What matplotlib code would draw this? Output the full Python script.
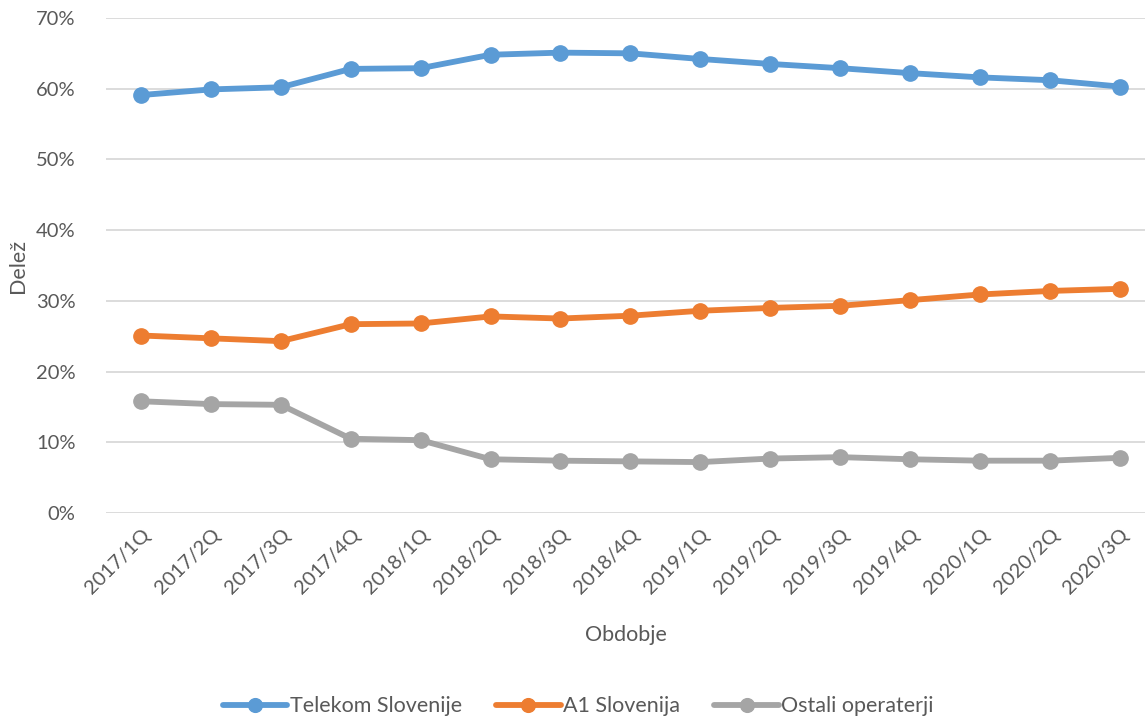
import matplotlib
matplotlib.use('Agg')
import matplotlib.pyplot as plt
import matplotlib.ticker as mticker


periods = ['2017/1Q', '2017/2Q', '2017/3Q', '2017/4Q',
           '2018/1Q', '2018/2Q', '2018/3Q', '2018/4Q',
           '2019/1Q', '2019/2Q', '2019/3Q', '2019/4Q',
           '2020/1Q', '2020/2Q', '2020/3Q']

telekom = [59.1, 59.9, 60.2, 62.8, 62.9, 64.8, 65.1, 65.0, 64.2, 63.5, 62.9, 62.2, 61.6, 61.2, 60.3]
a1      = [25.1, 24.7, 24.3, 26.7, 26.8, 27.8, 27.5, 27.9, 28.6, 29.0, 29.3, 30.1, 30.9, 31.4, 31.7]
ostali  = [15.8, 15.4, 15.3, 10.5, 10.3, 7.6, 7.4, 7.3, 7.2, 7.7, 7.9, 7.6, 7.4, 7.4, 7.8]

series_names = ['Telekom Slovenije', 'A1 Slovenija', 'Ostali operaterji']
series_colors = ['#5B9BD5', '#ED7D31', '#A5A5A5']

plt.rcParams['font.family'] = ['Lato', 'DejaVu Sans']
text_color = '#595959'

fig = plt.figure(figsize=(11.45, 7.19), dpi=100)
ax = fig.add_axes([0.0926, 0.2865, 0.9074, 0.6885])

x = list(range(len(periods)))
for values, name, color in zip([telekom, a1, ostali], series_names, series_colors):
	ax.plot(x, values, color=color, lw=4.2, marker='o', ms=11, label=name,
			solid_capstyle='round', solid_joinstyle='round')

ax.set_ylim(0, 70)
ax.set_xlim(-0.5, 14.36)
ax.yaxis.set_major_locator(mticker.MultipleLocator(10))
ax.yaxis.set_major_formatter(mticker.FormatStrFormatter('%d%%'))
ax.grid(axis='y', color='#D9D9D9', lw=1.3)
ax.set_axisbelow(True)
for s in ax.spines.values():
	s.set_visible(False)
ax.tick_params(length=0, labelsize=14.5, colors=text_color)
ax.tick_params(axis='y', pad=22)
ax.set_xticks(x)
ax.set_xticklabels(periods, rotation=45, ha='right', rotation_mode='anchor')
ax.tick_params(axis='x', pad=9)

ax.set_ylabel('Delež', fontsize=15.5, color=text_color, labelpad=6)
ax.set_xlabel('Obdobje', fontsize=15.5, color=text_color, labelpad=20)

fig.legend(loc='center', bbox_to_anchor=(0.505, 0.018), ncol=3, frameon=False,
		   fontsize=15.5, labelcolor=text_color, handlelength=3.0, handletextpad=0.1,
		   columnspacing=1.6, markerscale=0.9)

fig.savefig('out.png', dpi=100)
